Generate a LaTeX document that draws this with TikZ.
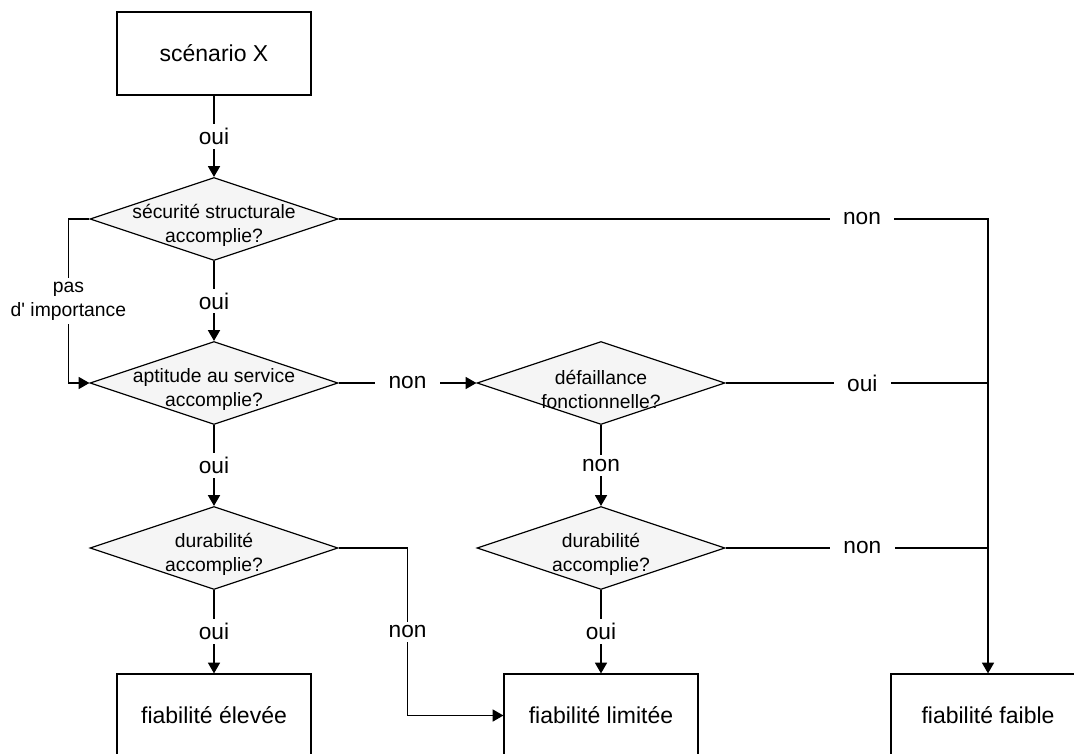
\documentclass[tikz,border=0pt]{standalone}
\usepackage{fontspec}
\setmainfont{Liberation Sans}
\usetikzlibrary{shapes.geometric, arrows.meta}
\definecolor{decfill}{RGB}{245,245,245}

\begin{document}
\begin{tikzpicture}[x=0.75pt,y=0.75pt,yscale=-1,xscale=1,
  box/.style={draw, line width=0.9pt, minimum width=145.5pt, minimum height=62.25pt, inner sep=0pt, font=\fontsize{17.25}{20}\selectfont},
  decision/.style={diamond, draw, line width=0.9pt, fill=decfill, minimum width=186pt, minimum height=62.25pt, inner sep=0pt},
  dectext/.style={align=center, inner sep=0pt, yshift=-4.5pt, font=\fontsize{14.5}{18}\selectfont},
  flow/.style={line width=0.9pt, -{Triangle[length=8pt,width=9pt]}},
  link/.style={line width=0.9pt},
  lbl/.style={fill=white, inner xsep=10pt, inner ysep=3pt, font=\fontsize{17}{20}\selectfont},
  note/.style={fill=white, align=center, inner xsep=2pt, inner ysep=3pt, font=\fontsize{14.5}{18}\selectfont}]
%set diagram left start at 0, and has height of 753
\useasboundingbox (0,0) rectangle (1074,753);

%Shape: Rectangle 
\node[box] (scen) at (214,53.5) {scénario X};
%Shape: Diamond 
\node[decision, label={[dectext]center:{sécurité structurale\\accomplie?}}] (secu) at (214,219) {};
%Shape: Diamond 
\node[decision, label={[dectext]center:{aptitude au service\\accomplie?}}] (apti) at (214,383) {};
%Shape: Diamond 
\node[decision, label={[dectext]center:{défaillance\\fonctionnelle?}}] (defa) at (601,383) {};
%Shape: Diamond 
\node[decision, label={[dectext]center:{durabilité\\accomplie?}}] (dura) at (214,548) {};
%Shape: Diamond 
\node[decision, label={[dectext]center:{durabilité\\accomplie?}}] (durb) at (601,548) {};
%Shape: Rectangle 
\node[box] (elev) at (214,715.5) {fiabilité élevée};
%Shape: Rectangle 
\node[box] (limi) at (601,715.5) {fiabilité limitée};
%Shape: Rectangle 
\node[box] (faib) at (988,715.5) {fiabilité faible};

%Straight Lines 
\draw[flow] (scen.south) -- node[lbl]{oui} (secu.north);
\draw[flow] (secu.south) -- node[lbl]{oui} (apti.north);
\draw[flow] (apti.south) -- node[lbl]{oui} (dura.north);
\draw[flow] (dura.south) -- node[lbl]{oui} (elev.north);
\draw[flow] (apti.east) -- node[lbl]{non} (defa.west);
\draw[flow] (defa.south) -- node[lbl]{non} (durb.north);
\draw[flow] (durb.south) -- node[lbl]{oui} (limi.north);
%Elbow Lines 
\draw[flow] (secu.west) -- ++(-21,0) |- node[note, pos=0.25]{pas\\d\textquotesingle{} importance} (apti.west);
\draw[flow] (dura.east) -- ++(69,0) |- node[lbl, pos=0.25]{non} (limi.west);
\draw[flow] (secu.east) -| node[lbl, pos=0.403]{non} (faib.north);
\draw[link] (defa.east) -- node[lbl, pos=0.521]{oui} (defa.east -| faib.north);
\draw[link] (durb.east) -- node[lbl, pos=0.521]{non} (durb.east -| faib.north);

\end{tikzpicture}
\end{document}
